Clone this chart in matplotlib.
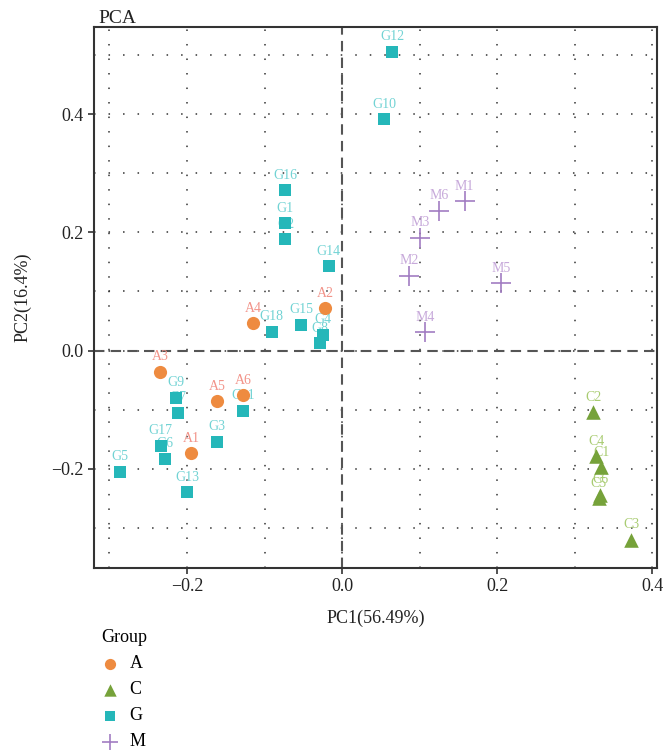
import matplotlib
matplotlib.use("Agg")
import matplotlib.pyplot as plt
from matplotlib.ticker import MultipleLocator

plt.rcParams["font.family"] = ["Liberation Serif", "DejaVu Serif"]

# PCA scores per group
a_names = ["A1", "A2", "A3", "A4", "A5", "A6"]
a_pc1 = [-0.195, -0.022, -0.235, -0.115, -0.161, -0.128]
a_pc2 = [-0.174, 0.072, -0.036, 0.046, -0.086, -0.075]

c_names = ["C1", "C2", "C3", "C4", "C5", "C6"]
c_pc1 = [0.334, 0.324, 0.373, 0.328, 0.331, 0.333]
c_pc2 = [-0.197, -0.104, -0.320, -0.179, -0.250, -0.244]

g_names = ["G1", "G2", "G3", "G4", "G5", "G6", "G7", "G8", "G9",
           "G10", "G11", "G12", "G13", "G14", "G15", "G16", "G17", "G18"]
g_pc1 = [-0.074, -0.073, -0.161, -0.025, -0.286, -0.228, -0.212, -0.028, -0.214,
         0.054, -0.128, 0.065, -0.200, -0.017, -0.053, -0.073, -0.234, -0.091]
g_pc2 = [0.216, 0.189, -0.154, 0.027, -0.205, -0.183, -0.105, 0.013, -0.080,
         0.392, -0.102, 0.506, -0.240, 0.143, 0.044, 0.272, -0.161, 0.032]

m_names = ["M1", "M2", "M3", "M4", "M5", "M6"]
m_pc1 = [0.158, 0.086, 0.101, 0.107, 0.205, 0.125]
m_pc2 = [0.253, 0.127, 0.191, 0.031, 0.114, 0.237]

groups = [
    ("A", a_names, a_pc1, a_pc2, "o", "#EE8B40", "#F2948A", 90),
    ("C", c_names, c_pc1, c_pc2, "^", "#76A23A", "#A9CC72", 110),
    ("G", g_names, g_pc1, g_pc2, "s", "#25B7B9", "#72D3D4", 85),
    ("M", m_names, m_pc1, m_pc2, "+", "#A27DC2", "#C7A9DA", 200),
]

fig = plt.figure(figsize=(6.65, 7.52), dpi=100)
ax = fig.add_axes([0.1416, 0.2447, 0.8468, 0.7189])

for label, names, xs, ys, marker, color, text_color, size in groups:
    for name, x, y in zip(names, xs, ys):
        ax.annotate(name, (x, y), xytext=(0, 6), textcoords="offset points",
                    ha="center", va="bottom", fontsize=10, color=text_color, zorder=2)
    if marker == "+":
        ax.scatter(xs, ys, marker=marker, s=size, color=color, linewidths=1.2,
                   label=label, zorder=3)
    else:
        ax.scatter(xs, ys, marker=marker, s=size, color=color, linewidths=0,
                   label=label, zorder=3)

ax.axvline(0, color="#555555", linestyle=(0, (5, 3)), linewidth=1.5, zorder=1)
ax.axhline(0, color="#555555", linestyle=(0, (5, 3)), linewidth=1.5, zorder=1)

ax.set_xlim(-0.3197, 0.4065)
ax.set_ylim(-0.368, 0.547)
ax.xaxis.set_major_locator(MultipleLocator(0.2))
ax.yaxis.set_major_locator(MultipleLocator(0.2))
ax.xaxis.set_minor_locator(MultipleLocator(0.1))
ax.yaxis.set_minor_locator(MultipleLocator(0.1))
ax.xaxis.set_major_formatter(lambda v, p: f"{v:.1f}".replace("-", "\u2212"))
ax.yaxis.set_major_formatter(lambda v, p: f"{v:.1f}".replace("-", "\u2212"))
ax.grid(which="both", color="#333333", linestyle=(0, (1, 8.5)), linewidth=1.1, zorder=0)
ax.set_axisbelow(True)

ax.tick_params(which="major", length=4, width=1.2, color="#333333", labelsize=13,
               labelcolor="#222222")
ax.tick_params(which="minor", length=0)
for spine in ax.spines.values():
    spine.set_color("#333333")
    spine.set_linewidth(1.5)

ax.set_xlabel("PC1(56.49%)", fontsize=13, color="#222222", labelpad=10)
ax.set_ylabel("PC2(16.4%)", fontsize=13, color="#222222", labelpad=14)
ax.set_title("PCA", loc="left", fontsize=14, color="#222222", pad=3, x=0.008)

ax.legend(title="Group", loc="upper left", bbox_to_anchor=(-0.001, -0.1), 
          frameon=False, fontsize=13, title_fontsize=13, handlelength=1.0,
          handletextpad=0.6, labelspacing=0.5, borderaxespad=0,
          alignment="left", markerscale=0.85)

fig.savefig("out.png", dpi=100)
